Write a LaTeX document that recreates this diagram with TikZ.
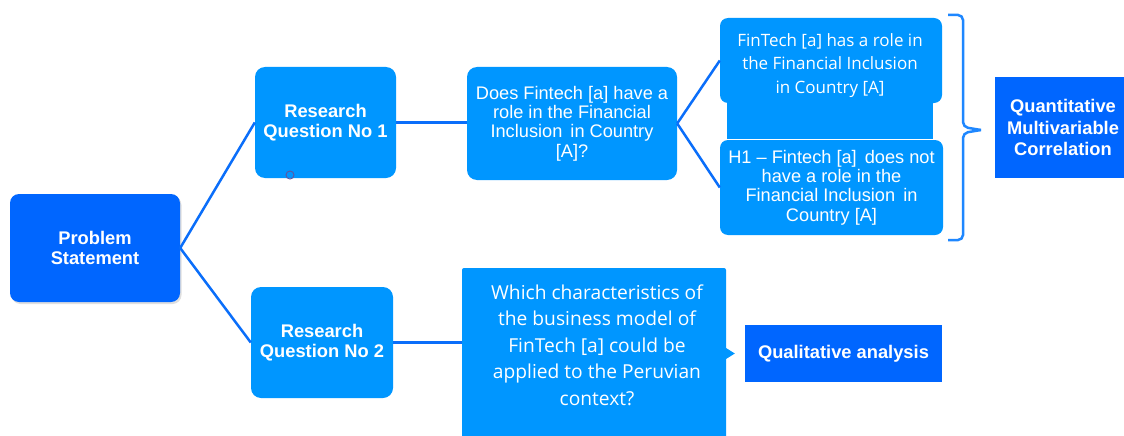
\documentclass[tikz,border=0pt]{standalone}
\usepackage{fontspec}
\setmainfont{Liberation Sans}
\newfontfamily\segoe{Open Sans}
\usetikzlibrary{arrows.meta,shadows,calc}
\definecolor{lightb}{RGB}{0,150,255}
\definecolor{darkb}{RGB}{0,102,255}
\definecolor{lineb}{RGB}{10,110,250}
\definecolor{braceb}{RGB}{30,135,255}
\tikzset{
  lbox/.style={fill=lightb, draw=none, rounded corners=10pt, inner sep=0pt, text=white, align=center},
  dbox/.style={fill=darkb, draw=none, inner sep=0pt, text=white, align=center},
  boldtxt/.style={font=\fontsize{18.3}{19.5}\selectfont\bfseries},
  regtxt/.style={font=\fontsize{18.2}{19.3}\selectfont},
  segtxt/.style={font=\fontsize{17}{23.5}\selectfont\segoe},
  segbig/.style={font=\fontsize{19.2}{26.5}\selectfont\segoe},
  conn/.style={draw=lineb, line width=2.5pt},
  arr/.style={draw=lightb, line width=1pt, -{Triangle[length=9pt,width=11pt]}},
  bracestyle/.style={draw=braceb, line width=2.5pt, rounded corners=5pt},
}
\begin{document}
\begin{tikzpicture}[x=1pt,y=-1pt]
\useasboundingbox (0,0) rectangle (1124,436);
\fill[white] (0,0) rectangle (1124,436);
% boxes
\node[dbox, rounded corners=9pt, minimum width=170pt, minimum height=108pt, boldtxt,
      drop shadow={shadow xshift=1.5pt, shadow yshift=-2pt, opacity=0.25}]
      (ps) at (95,248) {Problem\\Statement};
\node[lbox, minimum width=141pt, minimum height=111pt, boldtxt] (rq1) at (325.5,122.5) {Research\\Question No 1};
\node[lbox, minimum width=142pt, minimum height=111pt, boldtxt] (rq2) at (322,342.5) {Research\\Question No 2};
\node[circle, draw=gray!70!blue, line width=1pt, inner sep=0pt, minimum size=8pt] (handle) at (290,175) {};
\node[lbox, minimum width=210pt, minimum height=113pt, regtxt] (q1) at (572,123.5)
      {Does Fintech [a] have a\\role in the Financial\\Inclusion\, in Country\\{}[A]?};
\node[lbox, rounded corners=0pt, minimum width=206pt, minimum height=40pt] (h0ext) at (830,119) {};
\node[lbox, rounded corners=8pt, minimum width=222pt, minimum height=85pt] (h0) at (831,60.5) {};
\node[segtxt, text=white, align=center, inner sep=0pt] (h0t) at (830,65.5)
      {FinTech [a] has a role in\\the Financial Inclusion\\in Country [A]};
\node[lbox, rounded corners=8pt, minimum width=223pt, minimum height=95pt, regtxt] (h1) at (831.5,187.5)
      {H1 -- Fintech [a]\, does not\\have a role in the\\Financial Inclusion\, in\\Country [A]};
\node[lbox, rounded corners=2pt, minimum width=264pt, minimum height=172pt] (q2) at (594,354) {};
\node[segbig, text=white, align=center, inner sep=0pt] (q2t) at (597,345)
      {Which characteristics of\\the business model of\\FinTech [a] could be\\applied to the Peruvian\\context?};
\node[dbox, minimum width=197pt, minimum height=57pt, boldtxt] (qual) at (843.5,353.5) {Qualitative analysis};
\node[dbox, minimum width=136pt, minimum height=101pt, font=\fontsize{18.3}{21.5}\selectfont\bfseries] (quant) at (1063,127.5)
      {Quantitative\\Multivariable\\Correlation};
% connectors
\draw[conn] (ps.east) -- (rq1.west);
\draw[conn] (ps.east) -- (rq2.west);
\draw[conn] (rq1.east) -- (rq1.east -| q1.west);
\draw[conn] (rq2.east) -- (rq2.east -| q2.west);
\draw[conn] (q1.east) -- (h0.west);
\draw[conn] (q1.east) -- (h1.west);
\coordinate (atip) at ($(qual.west)+(-10,0)$);
\draw[arr] (qual.west -| q2.east) -- (atip);
% brace
\draw[bracestyle] (948,15) -- (963,15) -- (963,127) -- (981,130);
\draw[bracestyle] (981,130) -- (963,133) -- (963,240) -- (948,240);
\end{tikzpicture}
\end{document}
